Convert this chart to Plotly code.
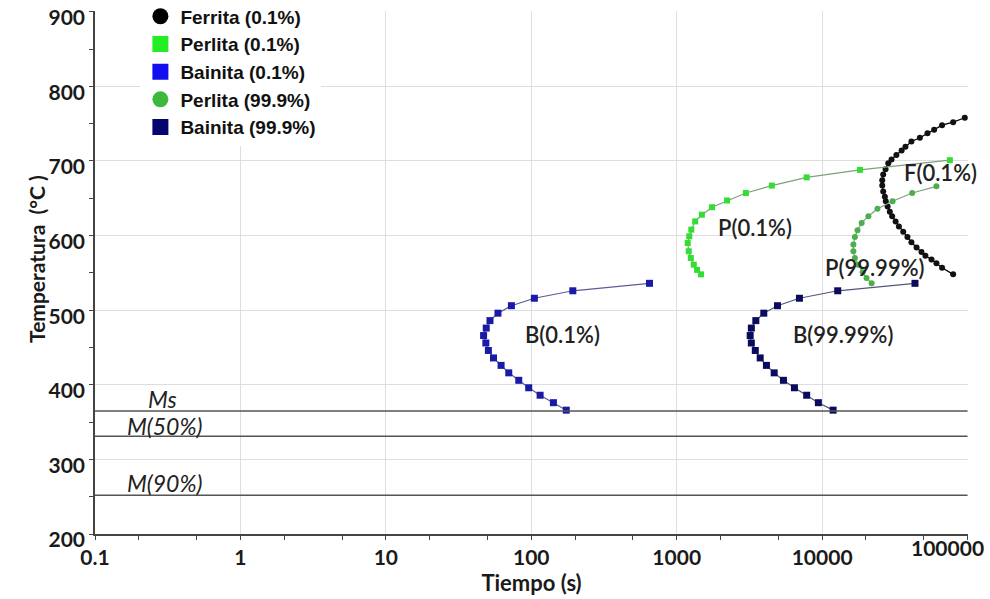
import math
import plotly.graph_objects as go

# ---------------- data ----------------
ferrita_t = [95700, 79600, 66800, 58900, 53000, 47000, 41100, 37400, 35200, 32400,
             30000, 28500, 27300, 26300, 25900, 25900, 26300, 27000, 27400, 28200,
             29200, 30300, 32000, 33700, 36100, 38600, 41100, 44600, 48200, 51300,
             56500, 61100, 66800, 79600]
ferrita_T = [758, 752, 748, 742, 737, 731, 726, 719, 714, 708,
             702, 697, 689, 682, 674, 667, 659, 652, 646, 639,
             632, 626, 619, 612, 605, 598, 591, 584, 578, 573,
             568, 563, 557, 548]

perlita01_t = [75500, 18200, 7830, 4510, 2990, 2220, 1750, 1490, 1340, 1260,
               1220, 1190, 1210, 1250, 1310, 1380, 1470]
perlita01_T = [701, 688, 678, 667, 657, 647, 638, 628, 619, 608,
               599, 590, 579, 570, 561, 554, 548]

bainita01_t = [650, 193, 105, 73, 59, 52, 49, 47, 48.7, 50.7,
               55, 62, 70, 82, 96, 115, 142, 174]
bainita01_T = [536, 526, 516, 506, 496, 486, 476, 466, 456, 446,
               436, 426, 416, 406, 396, 386, 376, 366]

perlita99_t = [61100, 41600, 30500, 24000, 20800, 18700, 17500, 16800, 16400, 16400,
               16800, 17700, 19000, 20200, 21900]
perlita99_T = [666, 657, 646, 636, 626, 617, 607, 598, 588, 579,
               570, 561, 551, 543, 536]

bainita99_t = [43500, 12800, 6980, 4930, 3970, 3500, 3260, 3200, 3260, 3470,
               3750, 4140, 4680, 5420, 6450, 7830, 9420, 11900]
bainita99_T = [536, 526, 516, 506, 496, 486, 476, 466, 456, 446,
               436, 426, 416, 406, 396, 386, 376, 366]

legend_names = ["Ferrita (0.1%)", "Perlita (0.1%)", "Bainita (0.1%)",
                "Perlita (99.9%)", "Bainita (99.9%)"]

martensite_names = ["Ms", "M(50%)", "M(90%)"]
martensite_T = [365, 331, 252]
martensite_label_t = [0.289, 0.303, 0.303]
martensite_label_T = [381, 345, 269]

curve_labels = ["F(0.1%)", "P(0.1%)", "P(99.99%)", "B(0.1%)", "B(99.99%)"]
curve_label_t = [65000, 3430, 22800, 163, 14000]
curve_label_T = [684, 611, 557, 467, 467]

x_tickvals = [0.1, 1, 10, 100, 1000, 10000]
x_ticktext = ["0.1", "1", "10", "100", "1000", "10000"]
x_last_tickval = [100000]
x_last_ticktext = ["100000"]
y_tickvals = [200, 300, 400, 500, 600, 700, 800, 900]

x_title = "Tiempo (s)"
y_title = "Temperatura  (°C )"

# ---------------- figure ----------------
fig = go.Figure()

series = [
    (ferrita_t, ferrita_T, "#000000", "#111111", "circle", 6),
    (perlita01_t, perlita01_T, "#7f9f7f", "#33dd33", "square", 6),
    (bainita01_t, bainita01_T, "#5c5c96", "#1a1aa8", "square", 7),
    (perlita99_t, perlita99_T, "#7fa07f", "#4caf4c", "circle", 6),
    (bainita99_t, bainita99_T, "#55557a", "#0b0b5e", "square", 7),
]
for t, T, lc, mc, sym, sz in series:
    fig.add_trace(go.Scatter(
        x=t, y=T, mode="lines+markers", showlegend=False,
        line=dict(color=lc, width=1.2),
        marker=dict(color=mc, symbol=sym, size=sz),
    ))

# martensite lines
for T in martensite_T:
    fig.add_trace(go.Scatter(
        x=[0.1, 100000], y=[T, T], mode="lines", showlegend=False,
        line=dict(color="#555555", width=1.5), hoverinfo="skip",
    ))

# invisible trace so the overlaid axis (last tick label) is drawn
fig.add_trace(go.Scatter(x=[None], y=[None], xaxis="x2", showlegend=False,
                         hoverinfo="skip", mode="markers"))

# legend-only entries (big markers, no lines)
legend_colors = ["#000000", "#22ee22", "#1010ee", "#3cb83c", "#05056e"]
legend_symbols = ["circle", "square", "square", "circle", "square"]
for name, c, s in zip(legend_names, legend_colors, legend_symbols):
    fig.add_trace(go.Scatter(
        x=[None], y=[None], mode="markers", name=name,
        marker=dict(color=c, symbol=s, size=16),
    ))

for name, t, T in zip(martensite_names, martensite_label_t, martensite_label_T):
    fig.add_annotation(x=math.log10(t), y=T, text=name,
                       showarrow=False, xref="x", yref="y",
                       font=dict(family="Lato", size=23, color="#222222", style="italic"))

for txt, t, T in zip(curve_labels, curve_label_t, curve_label_T):
    fig.add_annotation(x=math.log10(t), y=T, text=txt, showarrow=False,
                       font=dict(family="Lato", size=22, color="#222222", weight=600))

# y-axis title as rotated text (placed higher, as in the original)
fig.add_annotation(xref="paper", yref="paper", x=-0.0836, y=0.525,
                   text=y_title, textangle=-90, showarrow=False,
                   font=dict(family="Lato", size=21, weight="bold", color="#1a1a1a"))

tickfont = dict(family="Lato", size=21, weight="bold", color="#1a1a1a")

fig.update_layout(
    width=990, height=599,
    margin=dict(l=95, r=22, t=11, b=65, autoexpand=False),
    plot_bgcolor="white", paper_bgcolor="white",
    font=dict(family="Lato", color="#1a1a1a"),
    legend=dict(x=0.052, y=1.026, xanchor="left", yanchor="top",
                bgcolor="rgba(255,255,255,1)",
                font=dict(family="Liberation Sans", size=19, weight="bold", color="#111111"),
                tracegroupgap=0, itemwidth=30),
    xaxis=dict(
        type="log", range=[-1, 5.003], automargin=False,
        tickvals=x_tickvals + x_last_tickval, ticktext=x_ticktext + [""],
        ticklabeloverflow="allow",
        tickfont=tickfont,
        showgrid=True, gridcolor="#dedede", gridwidth=1,
        showline=True, linecolor="#444444", linewidth=1.5,
        ticks="outside", ticklen=4, tickcolor="#444444",
        minor=dict(ticks="outside", ticklen=4, tickcolor="#444444", showgrid=False),
        title=dict(text=x_title, font=dict(family="Lato", size=22, weight="bold"), standoff=6),
        zeroline=False,
    ),
    xaxis2=dict(type="log", range=[-1, 5.003], overlaying="x", side="bottom",
                tickvals=x_last_tickval, ticktext=x_last_ticktext,
                ticklabelshift=-20, ticklabeloverflow="allow",
                tickfont=tickfont, showgrid=False, showline=False, ticks="",
                zeroline=False, automargin=False),
    yaxis=dict(
        range=[200, 901], tickvals=y_tickvals, automargin=False,
        ticklabeloverflow="allow", ticklabelshift=6,
        tickfont=tickfont,
        showgrid=True, gridcolor="#dedede", gridwidth=1,
        showline=True, linecolor="#444444", linewidth=1.5,
        ticks="outside", ticklen=4, tickcolor="#444444",
        minor=dict(dtick=50, ticks="outside", ticklen=4, tickcolor="#444444", showgrid=False),
        zeroline=False,
    ),
)

fig.write_html("out.html", config={"displayModeBar": False},
               post_script="document.body.style.margin='0';")
